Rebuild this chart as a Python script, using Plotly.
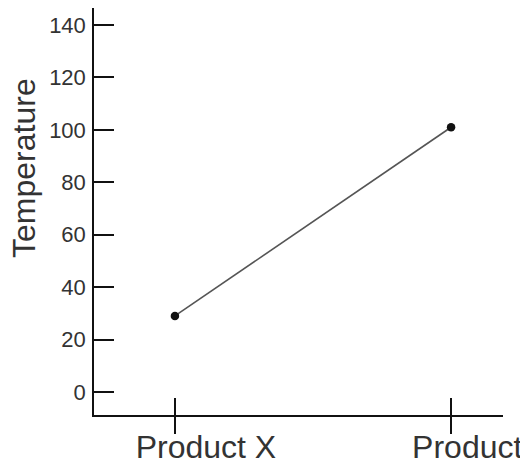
import plotly.graph_objects as go

categories = ["Product X", "Product Y"]
temperature = [29, 101]
y_ticks = [0, 20, 40, 60, 80, 100, 120, 140]
y_title = "Temperature"

positions = list(range(len(categories)))
FONT = "Liberation Sans, Arial, sans-serif"

fig = go.Figure()
fig.add_trace(go.Scatter(
    x=positions, y=temperature, mode="lines+markers",
    line=dict(color="#555555", width=1.6),
    marker=dict(color="#111111", size=8.5),
    showlegend=False, hoverinfo="skip",
))
# invisible copy on the overlay axis used for the upper half of the crossing x ticks
fig.add_trace(go.Scatter(
    x=positions, y=temperature, xaxis="x2", mode="markers",
    marker=dict(opacity=0), showlegend=False, hoverinfo="skip",
))

xr = [-0.293, 1.188]
fig.update_layout(
    width=520, height=460,
    margin=dict(l=86, r=25, t=0, b=53),
    paper_bgcolor="white", plot_bgcolor="white",
    font=dict(family=FONT, color="#333333"),
    xaxis=dict(
        range=xr, tickmode="array", tickvals=positions, ticktext=categories,
        automargin=False, ticklabeloverflow="allow",
        showgrid=False, zeroline=False, showline=True, linecolor="#111111", linewidth=1.5,
        ticks="outside", ticklen=17, tickwidth=1.5, tickcolor="#111111",
        tickfont=dict(size=32, color="#333333"), ticklabelshift=31, ticklabelstandoff=-14,
    ),
    xaxis2=dict(
        range=xr, overlaying="x", anchor="y", side="bottom", automargin=False,
        tickmode="array", tickvals=positions, showticklabels=False,
        showgrid=False, zeroline=False, showline=False,
        ticks="inside", ticklen=17, tickwidth=1.5, tickcolor="#111111",
    ),
    yaxis=dict(
        range=[-8.8, 146.5], tickmode="array", tickvals=y_ticks, automargin=False,
        showgrid=False, zeroline=False, showline=True, linecolor="#111111", linewidth=1.5,
        ticks="inside", ticklen=20, tickwidth=1.5, tickcolor="#111111",
        tickfont=dict(size=22, color="#333333"), ticklabelstandoff=2,
    ),
    annotations=[dict(
        text=y_title, xref="paper", yref="paper", x=0, y=0.607,
        xanchor="center", yanchor="middle", xshift=-70, textangle=-90,
        showarrow=False, font=dict(size=32, color="#333333", family=FONT),
    )],
)

fig.write_html("out.html")
